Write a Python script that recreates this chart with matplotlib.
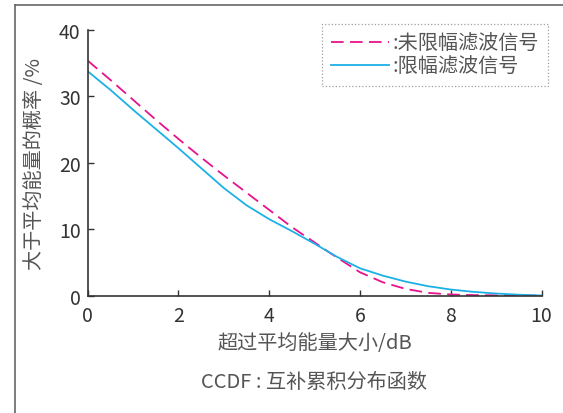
import matplotlib
matplotlib.use("Agg")
import matplotlib.pyplot as plt
from matplotlib.lines import Line2D

plt.rcParams['font.family'] = ['Noto Sans CJK SC', 'DejaVu Sans']

# excess over mean power (dB)
x_db = [0, 0.5, 1, 1.5, 2, 2.5, 3, 3.5, 4, 4.5, 5, 5.3, 5.5, 6, 6.5, 7, 7.5, 8, 8.5, 9, 9.5, 10]
# CCDF (%) unclipped filtered signal
ccdf_raw = [35.4, 32.5, 29.5, 26.5, 23.6, 20.8, 18.1, 15.5, 12.9, 10.3, 8.0, 6.6, 5.7, 3.5, 2.0, 1.0, 0.4, 0.15, 0.06, 0.02, 0.01, 0.0]
# CCDF (%) clipped filtered signal
ccdf_clip = [33.8, 31.0, 28.0, 25.1, 22.2, 19.2, 16.2, 13.6, 11.5, 9.7, 7.8, 6.6, 5.8, 4.1, 3.0, 2.1, 1.4, 0.9, 0.55, 0.3, 0.12, 0.0]

xticks = [0, 2, 4, 6, 8, 10]
yticks = [0, 10, 20, 30, 40]

txt = '#555555'
fig = plt.figure(figsize=(5.63, 4.14), dpi=100)
ax = fig.add_axes([0.1556, 0.2838, 0.8064, 0.6412])

ax.plot(x_db, ccdf_raw, color='#e8128c', lw=1.3, ls=(0, (7, 3.5)), label=':未限幅滤波信号')
ax.plot(x_db, ccdf_clip, color='#1cb1e6', lw=1.3, label=':限幅滤波信号')

ax.set_xlim(0, 10)
ax.set_ylim(0, 40)
ax.set_xticks(xticks)
ax.set_yticks(yticks)
ax.tick_params(direction='in', length=4, width=1, colors='#333333', labelsize=14, pad=5)
ax.tick_params(axis='x', pad=7)
for s in ['top', 'right']:
    ax.spines[s].set_visible(False)
for s in ['left', 'bottom']:
    ax.spines[s].set_color('#333333')
    ax.spines[s].set_linewidth(1.2)

ax.set_xlabel('超过平均能量大小/dB', fontsize=14.5, color=txt, labelpad=4)
ax.set_ylabel('大于平均能量的概率 /%', fontsize=14.5, color=txt, labelpad=10)

leg = fig.legend(loc='upper right', bbox_to_anchor=(548 / 563, 1 - 25 / 414),
                 fontsize=14.5, handlelength=2.9, handletextpad=0.15, labelspacing=0.1,
                 borderpad=0.45, borderaxespad=0, fancybox=False, frameon=True,
                 labelcolor=txt)
fr = leg.get_frame()
fr.set_edgecolor('#888888')
fr.set_linestyle(':')
fr.set_linewidth(0.9)

fig.text(314 / 563, 1 - 383 / 414, 'CCDF : 互补累积分布函数', fontsize=14.5, color=txt,
         ha='center', va='center')

# outer frame of the figure panel
fig.add_artist(Line2D([15 / 563, 15 / 563], [0, 1 - 5.5 / 414], transform=fig.transFigure,
                      color='#666666', lw=1.2))
fig.add_artist(Line2D([15 / 563, 1], [1 - 5.5 / 414, 1 - 5.5 / 414], transform=fig.transFigure,
                      color='#666666', lw=1.2))

fig.savefig('out.png', dpi=100)
